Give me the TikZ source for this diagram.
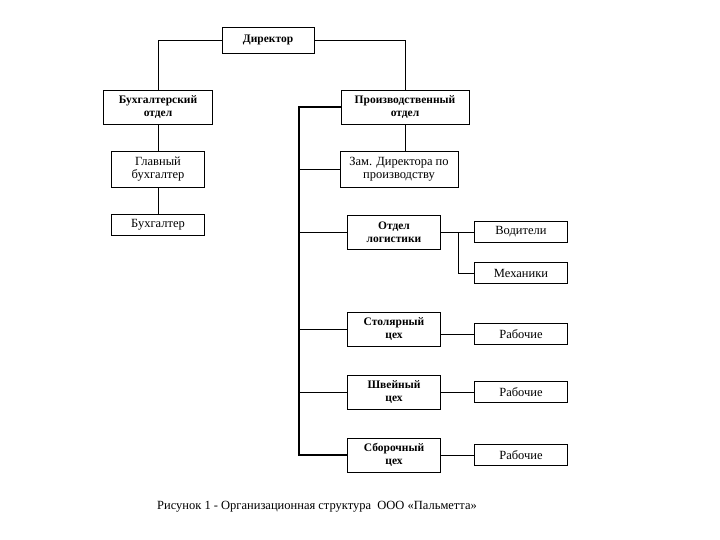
\documentclass[tikz,border=0pt]{standalone}
\usepackage{fontspec}
\setmainfont{Liberation Serif}
\usetikzlibrary{positioning,calc}
\tikzset{
  unit/.style={
    draw, line width=0.9pt, align=center, inner sep=1pt,
    minimum width=93pt, minimum height=34pt,
    font=\fontsize{11.5}{12.5}\selectfont\bfseries
  },
  plain/.style={unit, font=\fontsize{12.5}{13}\selectfont},
  slim/.style={plain, minimum height=21pt},
  link/.style={line width=0.9pt},
  spineline/.style={line width=1.3pt}
}
\begin{document}
\begin{tikzpicture}[x=1pt,y=-1pt]
\useasboundingbox (0,0) rectangle (720,540);

% top level
\node[unit, minimum width=92pt, minimum height=26pt] (dir) at (268,40) {Директор};
\node[unit, minimum width=109pt] (buh) at (158,107) {Бухгалтерский\\отдел};
\node[unit, minimum width=128pt] (prod) at (405,107) {Производственный\\отдел};

% accounting
\node[plain, minimum height=36pt] (glav) at (158,169) {Главный\\бухгалтер};
\node[slim] (buhg) at (158,225) {Бухгалтер};

% production
\node[plain, minimum width=118pt, minimum height=36pt] (zam) at (399,169) {Зам. Директора по\\производству};
\node[unit] (log) at (394,232) {Отдел\\логистики};
\node[slim] (vod) at (521,232) {Водители};
\node[slim] (mech) at (521,273) {Механики};
\node[unit] (stol) at (394,329) {Столярный\\цех};
\node[slim] (rab1) at (521,334) {Рабочие};
\node[unit] (shv) at (394,392) {Швейный\\цех};
\node[slim] (rab2) at (521,392) {Рабочие};
\node[unit] (sbor) at (394,455) {Сборочный\\цех};
\node[slim] (rab3) at (521,455) {Рабочие};

\coordinate (spine) at (299,0);
\coordinate (lj) at (458,0);

% connectors
\draw[link] (dir.west) -| (buh.north);
\draw[link] (dir.east) -| (prod.north);
\draw[link] (buh.south) -- (glav.north);
\draw[link] (glav.south) -- (buhg.north);
\draw[link] (prod.south) -- (prod.south |- zam.north);
\draw[spineline] (prod.west) -- (prod.west -| spine) -- (spine |- sbor.west) -- (sbor.west);
\foreach \n in {zam,log,stol,shv}
  \draw[link] (spine |- \n.west) -- (\n.west);
\draw[link] (log.east) -- (log.east -| lj) |- (mech.west);
\draw[link] (log.east -| lj) -- (vod.west);
\draw[link] (rab1.west -| stol.east) -- (rab1.west);
\draw[link] (shv.east) -- (rab2.west);
\draw[link] (sbor.east) -- (rab3.west);

% caption
\node[font=\fontsize{12.5}{13}\selectfont] (cap) at (317,507)
  {Рисунок 1 - Организационная структура\ \ ООО «Пальметта»};
\end{tikzpicture}
\end{document}
